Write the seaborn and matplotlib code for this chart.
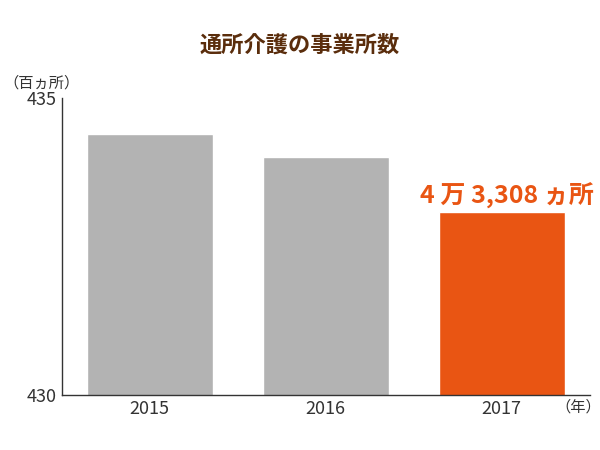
import matplotlib
matplotlib.use("Agg")
import matplotlib.pyplot as plt
import seaborn as sns
import pandas as pd

years = ["2015", "2016", "2017"]
values = [434.4, 434.0, 433.08]
colors = ["#b3b3b3", "#b3b3b3", "#e95513"]
title = "通所介護の事業所数"
label_2017 = "4 万 3,308 ヵ所"

sns.set_theme(style="white")
plt.rcParams['font.family'] = ['Noto Sans CJK JP', 'DejaVu Sans']

fig = plt.figure(figsize=(6, 4.5), dpi=100)
ax = fig.add_axes([0.103, 0.122, 0.88, 0.66])
df = pd.DataFrame({"year": years, "value": values})
sns.barplot(data=df, x="year", y="value", hue="year", palette=colors, legend=False,
            width=0.716, ax=ax, saturation=1)
ax.set_ylim(430, 435)
ax.set_xlim(-0.5, 2.5)
ax.set_yticks([430, 435])
ax.set_yticklabels(["430", "435"], fontsize=13, color="#333333")
ax.tick_params(axis='x', labelsize=13, colors="#333333", length=0)
ax.tick_params(axis='y', length=0)
ax.set_xlabel("")
ax.set_ylabel("")
for s in ["top", "right"]:
    ax.spines[s].set_visible(False)
for s in ["left", "bottom"]:
    ax.spines[s].set_color("#333333")
    ax.spines[s].set_linewidth(1)
ax.text(2.03, values[2] + 0.05, label_2017, ha="center", va="bottom", fontsize=18,
        fontweight="bold", color="#e95513")
fig.text(0.5, 0.9, title, ha="center", va="center", fontsize=16, fontweight="bold", color="#5a2d0c")
fig.text(0.005, 0.815, "（百ヵ所）", ha="left", va="center", fontsize=11, color="#333333")
fig.text(0.925, 0.095, "（年）", ha="left", va="center", fontsize=11, color="#333333")
fig.savefig("out.png", dpi=100)
